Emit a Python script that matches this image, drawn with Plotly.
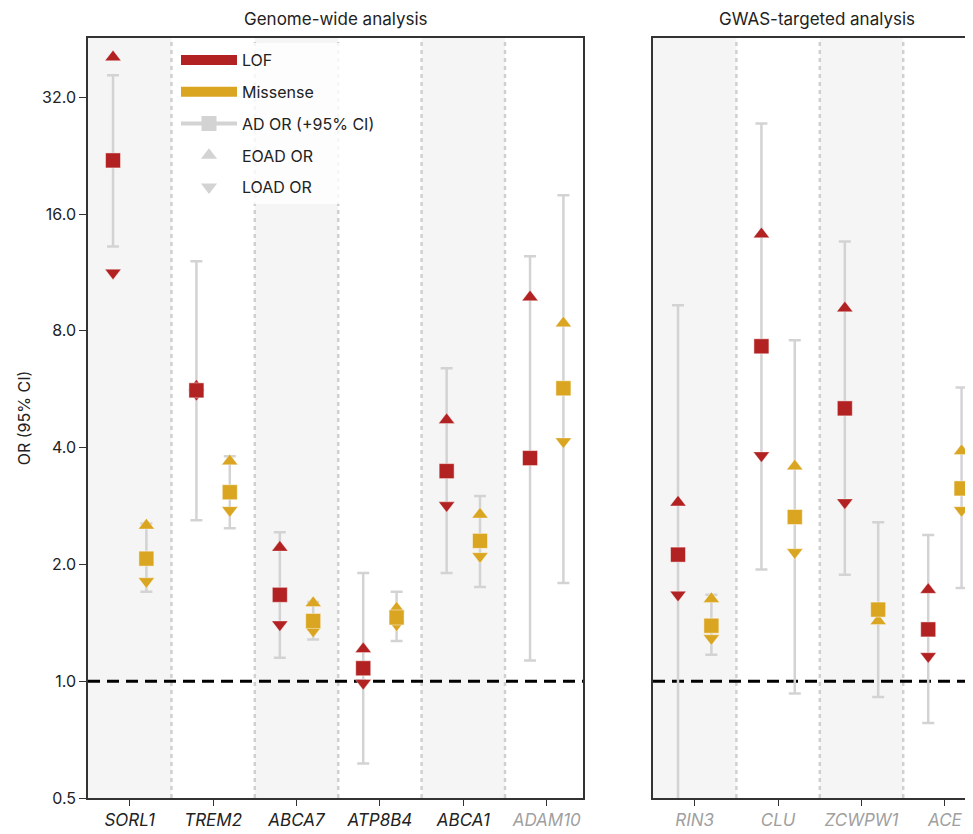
import plotly.graph_objects as go

# ---------------- data ----------------
genes_gw = ["SORL1", "TREM2", "ABCA7", "ATP8B4", "ABCA1", "ADAM10"]
genes_gt = ["RIN3", "CLU", "ZCWPW1", "ACE"]

# Genome-wide, LOF
gw_lof_or = [22.0, 5.62, 1.67, 1.08, 3.48, 3.76]
gw_lof_lo = [13.2, 2.60, 1.15, 0.614, 1.90, 1.13]
gw_lof_hi = [36.5, 12.1, 2.42, 1.90, 6.41, 12.45]
gw_lof_eoad = [40.6, 5.75, 2.21, 1.21, 4.71, 9.77]
gw_lof_load = [11.3, 5.50, 1.40, 0.99, 2.84, None]
# Genome-wide, Missense
gw_mis_or = [2.07, 3.07, 1.43, 1.46, 2.30, 5.69]
gw_mis_lo = [1.70, 2.48, 1.28, 1.27, 1.75, 1.79]
gw_mis_hi = [2.55, 3.80, 1.60, 1.70, 3.00, 17.9]
gw_mis_eoad = [2.52, 3.69, 1.59, 1.54, 2.69, 8.37]
gw_mis_load = [1.81, 2.76, 1.35, 1.40, 2.10, 4.15]

# GWAS-targeted, LOF
gt_lof_or = [2.12, 7.30, 5.05, 1.36]
gt_lof_lo = [0.30, 1.94, 1.88, 0.78]
gt_lof_hi = [9.31, 27.4, 13.6, 2.38]
gt_lof_eoad = [2.89, 14.2, 9.15, 1.72]
gt_lof_load = [1.67, 3.82, 2.89, 1.16]
# GWAS-targeted, Missense
gt_mis_or = [1.39, 2.65, 1.53, 3.14]
gt_mis_lo = [1.17, 0.93, 0.91, 1.74]
gt_mis_hi = [1.67, 7.57, 2.57, 5.72]
gt_mis_eoad = [1.63, 3.58, 1.43, 3.92]
gt_mis_load = [1.29, 2.15, 1.53, 2.76]

y_ticks = [0.5, 1.0, 2.0, 4.0, 8.0, 16.0, 32.0]
y_ticktext = ["0.5", "1.0", "2.0", "4.0", "8.0", "16.0", "32.0"]

# ---------------- style ----------------
RED = "#b22222"
GOLD = "#daa520"
CI = "#d3d3d3"
LEG = "#d3d3d3"
BAND = "#f5f5f5"
AX = "#333333"
TXT = "#222222"
FONT = "Inter"
OFF = 0.2

fig = go.Figure()

panels = [
    dict(genes=genes_gw, xa="x", ya="y",
         lof=(gw_lof_or, gw_lof_lo, gw_lof_hi, gw_lof_eoad, gw_lof_load),
         mis=(gw_mis_or, gw_mis_lo, gw_mis_hi, gw_mis_eoad, gw_mis_load)),
    dict(genes=genes_gt, xa="x2", ya="y2",
         lof=(gt_lof_or, gt_lof_lo, gt_lof_hi, gt_lof_eoad, gt_lof_load),
         mis=(gt_mis_or, gt_mis_lo, gt_mis_hi, gt_mis_eoad, gt_mis_load)),
]

for p in panels:
    n = len(p["genes"])
    groups = [(p["lof"], -OFF, RED), (p["mis"], OFF, GOLD)]
    # CI lines
    for (orv, lo, hi, eo, ld), off, col in groups:
        xs = [i + off for i in range(n)]
        fig.add_trace(go.Scatter(
            x=xs, y=orv, mode="markers", xaxis=p["xa"], yaxis=p["ya"],
            marker=dict(size=1, color="rgba(0,0,0,0)"),
            error_y=dict(type="data", symmetric=False,
                         array=[h - o for h, o in zip(hi, orv)],
                         arrayminus=[o - l for o, l in zip(orv, lo)],
                         color=CI, thickness=2.5, width=6),
            showlegend=False, hoverinfo="skip"))
    # triangles
    for (orv, lo, hi, eo, ld), off, col in groups:
        xs = [i + off for i in range(n)]
        fig.add_trace(go.Scatter(
            x=xs, y=eo, mode="markers", xaxis=p["xa"], yaxis=p["ya"],
            marker=dict(symbol="triangle-up", size=14, color=col,
                        line=dict(width=0.6, color="rgba(255,255,255,0.6)")),
            showlegend=False))
        fig.add_trace(go.Scatter(
            x=xs, y=ld, mode="markers", xaxis=p["xa"], yaxis=p["ya"],
            marker=dict(symbol="triangle-down", size=14, color=col,
                        line=dict(width=0.6, color="rgba(255,255,255,0.6)")),
            showlegend=False))
    # squares
    for (orv, lo, hi, eo, ld), off, col in groups:
        xs = [i + off for i in range(n)]
        fig.add_trace(go.Scatter(
            x=xs, y=orv, mode="markers", xaxis=p["xa"], yaxis=p["ya"],
            marker=dict(symbol="square", size=15, color=col,
                        line=dict(width=0.8, color="rgba(255,255,255,0.6)")),
            showlegend=False))

# legend entries
leg = [
    dict(name="LOF", mode="lines", line=dict(color=RED, width=11)),
    dict(name="Missense", mode="lines", line=dict(color=GOLD, width=11)),
    dict(name="AD OR (+95% CI)", mode="lines+markers", line=dict(color=LEG, width=4),
         marker=dict(symbol="square", size=15, color=LEG)),
    dict(name="EOAD OR", mode="markers", marker=dict(symbol="triangle-up", size=14, color=LEG)),
    dict(name="LOAD OR", mode="markers", marker=dict(symbol="triangle-down", size=14, color=LEG)),
]
for k, e in enumerate(leg):
    fig.add_trace(go.Scatter(x=[None], y=[None], legendgroup=f"g{k}", showlegend=True, **e))

# shapes: bands, dividers, reference line
shapes = []
for p in panels:
    n = len(p["genes"])
    for i in range(n):
        if i % 2 == 0:
            shapes.append(dict(type="rect", xref=p["xa"], yref=p["ya"] + " domain",
                               x0=i - 0.5, x1=i + 0.5, y0=0, y1=1,
                               fillcolor=BAND, line=dict(width=0), layer="below"))
    for i in range(n - 1):
        shapes.append(dict(type="line", xref=p["xa"], yref=p["ya"] + " domain",
                           x0=i + 0.5, x1=i + 0.5, y0=0, y1=1,
                           line=dict(color="#d0d0d0", width=2.5, dash="4px,4px"), layer="below"))
    shapes.append(dict(type="line", xref=p["xa"] + " domain", yref=p["ya"],
                       x0=0, x1=1, y0=1.0, y1=1.0,
                       line=dict(color="black", width=3, dash="12px,7px"), layer="below"))

# page offset of 8px (body margin) compensated
W, H = 965, 826
ML, MR, MT, MB = 80, 0, 30, 36
PW = W - ML - MR
PH = H - MT - MB
px = lambda v: (v - 88) / PW          # window x -> paper x
py = lambda v: (798 - v) / PH         # window y -> paper y

tick_gw = [f"<i>{g}</i>" if g != "ADAM10" else f"<span style='color:#a0a0a0'><i>{g}</i></span>"
           for g in genes_gw]
tick_gt = [f"<i>{g}</i>" for g in genes_gt]

axis_common = dict(showgrid=False, zeroline=False, showline=True, linecolor=AX, linewidth=1.5,
                   ticks="outside", tickcolor=AX, tickwidth=1.2)
yrange = [-0.30103, 1.658]

fig.update_layout(
    width=W, height=H,
    margin=dict(l=ML, r=MR, t=MT, b=MB),
    paper_bgcolor="white", plot_bgcolor="white",
    font=dict(family=FONT, color=TXT, size=15),
    shapes=shapes,
    xaxis=dict(domain=[0, px(583)], range=[-0.5, 5.435], anchor="y",
               tickvals=list(range(len(genes_gw))), ticktext=tick_gw, ticklen=6,
               tickfont=dict(size=17, color=TXT), mirror=True, **axis_common),
    yaxis=dict(type="log", range=yrange, anchor="x", tickvals=y_ticks, ticktext=y_ticktext,
               ticklen=7, tickfont=dict(size=16, color=TXT), mirror=True,
               title=dict(text="OR (95% CI)", font=dict(size=16, color=TXT), standoff=8),
               **axis_common),
    xaxis2=dict(domain=[px(653), 1.0], range=[-0.5, 3.337], anchor="y2",
                tickvals=list(range(len(genes_gt))), ticktext=tick_gt, ticklen=6,
                tickfont=dict(size=17, color="#a0a0a0"), mirror=True, **axis_common),
    yaxis2=dict(type="log", range=yrange, anchor="x2", tickvals=y_ticks,
                showticklabels=False, showgrid=False, zeroline=False, showline=True,
                linecolor=AX, linewidth=1.5, ticks="", mirror=False),
    legend=dict(x=px(176), y=py(43), xanchor="left", yanchor="top",
                bgcolor="rgba(255,255,255,0.8)", font=dict(size=16, color=TXT),
                itemwidth=56, tracegroupgap=8, borderwidth=0,
                entrywidth=295, entrywidthmode="pixels"),
    annotations=[
        dict(text="Genome-wide analysis", xref="paper", yref="paper", x=px(336), y=1,
             xanchor="center", yanchor="bottom", yshift=7, showarrow=False,
             font=dict(size=17, color=TXT)),
        dict(text="GWAS-targeted analysis", xref="paper", yref="paper", x=px(817), y=1,
             xanchor="center", yanchor="bottom", yshift=7, showarrow=False,
             font=dict(size=17, color=TXT)),
    ],
)

fig.write_html("out.html")
